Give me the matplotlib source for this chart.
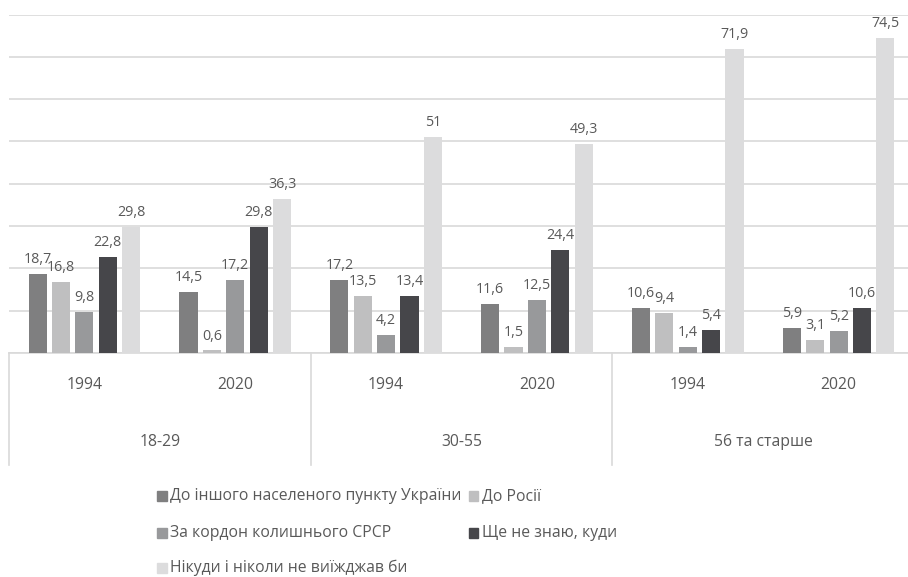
import matplotlib
matplotlib.use("Agg")
import matplotlib.pyplot as plt
import matplotlib.patches as mpatches
import numpy as np

plt.rcParams["font.family"] = ["Open Sans", "DejaVu Sans"]

# Data
age_groups = ["18-29", "30-55", "56 та старше"]
years = ["1994", "2020"]
series_names = [
    "До іншого населеного пункту України",
    "До Росії",
    "За кордон колишнього СРСР",
    "Ще не знаю, куди",
    "Нікуди і ніколи не виїжджав би",
]
other_town = [18.7, 14.5, 17.2, 11.6, 10.6, 5.9]
russia = [16.8, 0.6, 13.5, 1.5, 9.4, 3.1]
abroad_ussr = [9.8, 17.2, 4.2, 12.5, 1.4, 5.2]
dont_know = [22.8, 29.8, 13.4, 24.4, 5.4, 10.6]
never = [29.8, 36.3, 51, 49.3, 71.9, 74.5]

series_values = [other_town, russia, abroad_ussr, dont_know, never]
colors = ["#7f7f80", "#bfbfc0", "#98999b", "#46464a", "#dcdcdd"]
text_color = "#595959"
grid_color = "#d9d9d9"
fs = 11.3

W, H = 908, 577
fig = plt.figure(figsize=(W / 100, H / 100), dpi=100)

# plot area in pixels (right edge runs slightly past the image, as in the original)
x0, x1, ytop, ybase = 9, 914, 14.5, 353
ax = fig.add_axes([x0 / W, (H - ybase) / H, (x1 - x0) / W, (ybase - ytop) / H])

n_cat = len(age_groups) * len(years)
x = np.arange(n_cat)
step = 0.155
width = 0.12
offsets = (np.arange(len(series_values)) - 2) * step

for vals, off, col in zip(series_values, offsets, colors):
    bars = ax.bar(x + off, vals, width=width, color=col, zorder=3)
    labels = [f"{v:g}".replace(".", ",") for v in vals]
    ax.bar_label(bars, labels=labels, padding=5, fontsize=10.3, color=text_color)

ax.set_xlim(-0.5, n_cat - 0.5)
ax.set_ylim(0, 80)
ax.set_yticks(np.arange(0, 81, 10))
ax.yaxis.grid(True, color=grid_color, linewidth=1.2, zorder=0)
ax.set_axisbelow(True)
ax.tick_params(left=False, labelleft=False, bottom=False, labelbottom=False)
for s in ax.spines.values():
    s.set_visible(False)

# multi-level category axis
trans = ax.get_xaxis_transform()
axis_h = (ybase - ytop)
drop = -(465 - ybase) / axis_h
for b in range(0, n_cat + 1, 2):
    ax.plot([b - 0.5, b - 0.5], [0, drop], transform=trans, color=grid_color,
            linewidth=1.2, clip_on=False)
ax.plot([-0.5, n_cat - 0.5], [0, 0], transform=trans, color=grid_color,
        linewidth=1.2, clip_on=False)

year_y = -(385 - ybase) / axis_h
group_y = -(442 - ybase) / axis_h
for i in range(n_cat):
    ax.text(x[i], year_y, years[i % 2], transform=trans, ha="center", va="center",
            fontsize=fs, color=text_color)
for g, name in enumerate(age_groups):
    ax.text(2 * g + 0.5, group_y, name, transform=trans, ha="center", va="center",
            fontsize=fs, color=text_color)

# legend laid out like the Excel one
legend_pos = [(157, 496), (469, 496), (157, 533), (469, 533), (157, 568)]
for (px, py), name, col in zip(legend_pos, series_names, colors):
    fig.patches.append(mpatches.Rectangle((px / W, (H - py - 4.5) / H), 9.5 / W, 9.5 / H,
                                          transform=fig.transFigure, color=col))
    fig.text((px + 13) / W, (H - py) / H, name, ha="left", va="center",
             fontsize=fs, color=text_color)

fig.savefig("out.png", dpi=100)
